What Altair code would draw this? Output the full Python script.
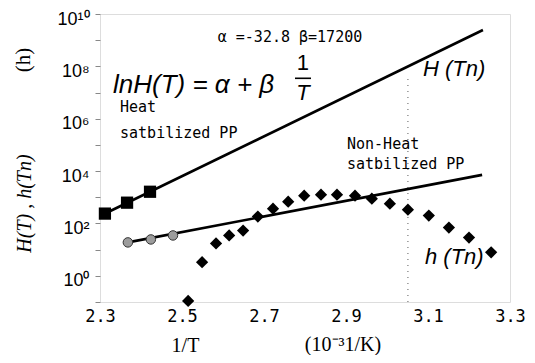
import altair as alt
import pandas as pd

# ---------------- data ----------------
heat_x = [2.312, 2.366, 2.422]
heat_y = [238, 622, 1625]

nonheat_x = [2.368, 2.424, 2.478]
nonheat_y = [18.9, 24.5, 34.8]

h_x = [2.515, 2.549, 2.583, 2.615, 2.649, 2.685, 2.722, 2.759, 2.798, 2.839,
       2.878, 2.922, 2.963, 3.007, 3.051, 3.102, 3.151, 3.200, 3.254]
h_y = [0.11, 3.3, 17.3, 34.8, 53.8, 183, 368, 679, 1146, 1250,
       1250, 1146, 881, 570, 337, 200, 70, 29, 7.9]

H_line_x = [2.30, 3.234]
H_line_y = [193, 2.45e9]

nh_line_x = [2.368, 3.232]
nh_line_y = [18.9, 7180]

tn_x = [3.051]
tn_y_low = [0.1]
tn_y_high = [5e7]

x_ticks = [2.3, 2.5, 2.7, 2.9, 3.1, 3.3]
y_ticks = [10.0 ** k for k in range(-1, 11)]
y_tick_labels = ["", "10⁰", "", "10²", "", "10⁴", "", "10⁶", "", "10⁸", "", "10¹⁰"]

# ---------------- scales / axes ----------------
xs = alt.Scale(domain=[2.3, 3.3], nice=False, zero=False)
ys = alt.Scale(type="log", domain=[0.1, 1e10], nice=False)

label_array = "[" + ",".join("'" + s + "'" for s in y_tick_labels) + "]"

x_axis = alt.Axis(values=x_ticks, format=".1f", title="1/T",
                  titleX=85, titleY=43, titleAlign="center", titleBaseline="middle",
                  titleFont="Liberation Serif", titleFontSize=20, titleFontWeight="normal",
                  titleColor="black",
                  labelFont="DejaVu Sans Mono", labelFontSize=17, labelColor="black",
                  labelFlush=False, labelPadding=6, ticks=False, domain=False, grid=False)

y_axis = alt.Axis(values=y_ticks, labelExpr=label_array + "[round(log(datum.value)/LN10)+1]",
                  labelFont="Liberation Sans", labelFontSize=18, labelColor="black",
                  labelOverlap=False, labelPadding=6, labelOffset=5, tickSize=5, tickColor="#888",
                  domain=False, grid=False,
                  title="H(T) , h(Tn)", titleFont="Liberation Serif", titleFontStyle="italic",
                  titleFontSize=20, titleFontWeight="normal", titleColor="black",
                  titleX=-76, titleY=189, titleAlign="center", titleBaseline="middle",
                  titleAngle=270)


def X():
    return alt.X("x:Q", scale=xs, axis=x_axis)


def Y():
    return alt.Y("y:Q", scale=ys, axis=y_axis)


def df(x, y):
    return pd.DataFrame({"x": x, "y": y})


H_line = alt.Chart(df(H_line_x, H_line_y)).mark_line(color="black", strokeWidth=2.6).encode(x=X(), y=Y())
nh_line = alt.Chart(df(nh_line_x, nh_line_y)).mark_line(color="black", strokeWidth=2.6).encode(x=X(), y=Y())

tn_rule = alt.Chart(pd.DataFrame({"x": tn_x, "y": tn_y_low, "y2": tn_y_high})).mark_rule(
    color="#777", strokeDash=[1, 5], strokeWidth=1.2).encode(x=X(), y=Y(), y2="y2:Q")

squares = alt.Chart(df(heat_x, heat_y)).mark_point(
    shape="square", filled=True, size=150, color="black", opacity=1).encode(x=X(), y=Y())

circles = alt.Chart(df(nonheat_x, nonheat_y)).mark_point(
    shape="circle", filled=True, size=90, fill="#9c9c9c", stroke="#333", strokeWidth=1,
    opacity=1).encode(x=X(), y=Y())

diamonds = alt.Chart(df(h_x, h_y)).mark_point(
    shape="diamond", filled=True, size=150, color="black", opacity=1).encode(x=X(), y=Y())


def note(x, y, text, **kw):
    d = pd.DataFrame({"x": [x], "y": [y], "t": [text]})
    return alt.Chart(d).mark_text(color="black", **kw).encode(x=X(), y=Y(), text="t:N")


mono = "DejaVu Sans Mono"
notes = [
    note(2.7634, 1.35e9, "α =-32.8 β=17200", font=mono, fontSize=15, align="center", baseline="middle"),
    note(2.3317, 2.0e7, "lnH(T) = α + β", font="Liberation Sans", fontStyle="italic",
         fontSize=26, align="left", baseline="middle"),
    note(2.795, 1.38e8, "1", font="Liberation Sans", fontSize=22, align="center", baseline="middle"),
    note(2.795, 9.3e6, "T", font="Liberation Sans", fontStyle="italic", fontSize=22,
         align="center", baseline="middle"),
    note(2.3488, 2.9e6, "Heat", font=mono, fontSize=15, align="left", baseline="middle"),
    note(2.3488, 2.8e5, "satbilized PP", font=mono, fontSize=15, align="left", baseline="middle"),
    note(3.0878, 8.2e7, "H (Tn)", font="Liberation Sans", fontStyle="italic", fontSize=22,
         align="left", baseline="middle"),
    note(2.9024, 1.07e5, "Non-Heat", font=mono, fontSize=15, align="left", baseline="middle"),
    note(2.9024, 1.86e4, "satbilized PP", font=mono, fontSize=15, align="left", baseline="middle"),
    note(3.0927, 5.1, "h (Tn)", font="Liberation Sans", fontStyle="italic", fontSize=22,
         align="left", baseline="middle"),
]

frac_bar = alt.Chart(pd.DataFrame({"x": [2.7756], "x2": [2.8146], "y": [3.5e7]})).mark_rule(
    color="black", strokeWidth=1.6).encode(x=X(), x2="x2:Q", y=Y())

h_unit = alt.Chart(pd.DataFrame({"t": ["(h)"]})).mark_text(
    font="Liberation Serif", fontSize=21, angle=270, align="center", baseline="middle",
    color="black").encode(x=alt.value(-76), y=alt.value(46), text="t:N")

k_unit = alt.Chart(pd.DataFrame({"t": ["(10⁻³1/K)"]})).mark_text(
    font="Liberation Serif", fontSize=20, align="center", baseline="middle",
    color="black").encode(x=alt.value(243), y=alt.value(331), text="t:N")

chart = alt.layer(tn_rule, H_line, nh_line, frac_bar, *notes, squares, circles, diamonds,
                  h_unit, k_unit).properties(
    width=410, height=288,
    autosize=alt.AutoSizeParams(type="none"),
    padding={"left": 92, "top": 6, "right": 17, "bottom": 53},
).configure_view(stroke="#777", strokeWidth=1).configure(background="white")

chart.save("out.html", embed_options={"renderer": "svg", "actions": False})
